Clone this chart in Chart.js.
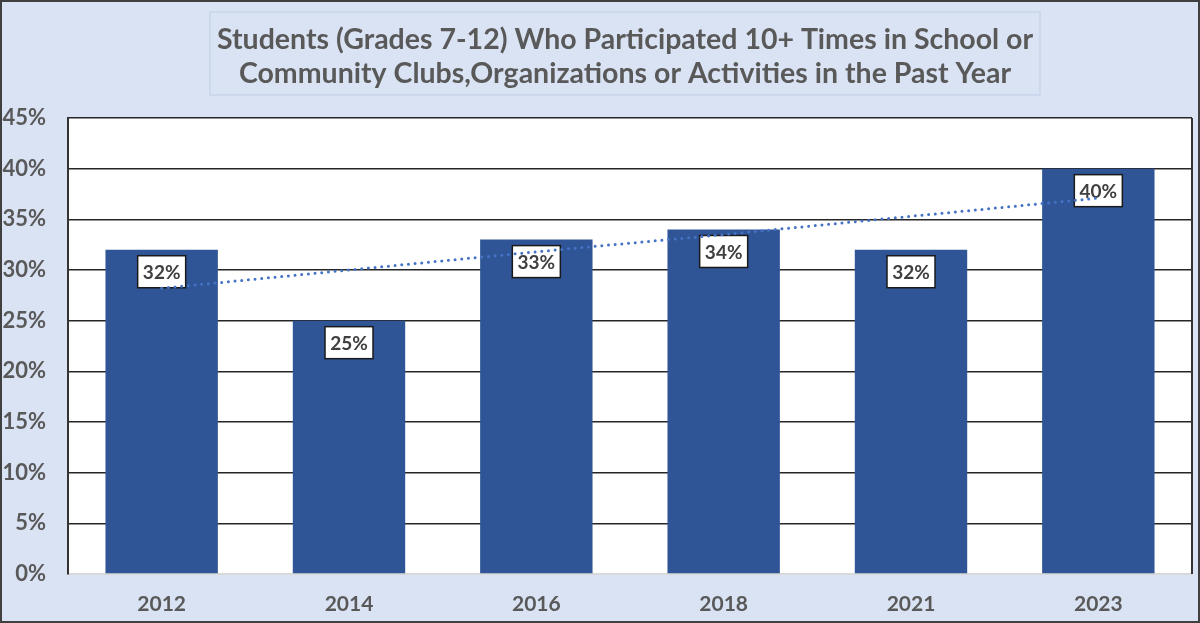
<!DOCTYPE html>
<html lang="en">
<head>
    <meta charset="UTF-8">
    <title>Students Participating in Clubs</title>
    <script src="https://cdn.jsdelivr.net/npm/chart.js@4.4.1/dist/chart.umd.min.js"></script>
    <style>
        html, body { margin: 0; padding: 0; background: #dae3f3; }
        canvas { display: block; }
    </style>
</head>
<body>
    <canvas id="clubChart" width="1200" height="623"></canvas>

    <script>
        // Data
        const years = ['2012', '2014', '2016', '2018', '2021', '2023'];
        const shares = [32, 25, 33, 34, 32, 40];
        const trend = [28.2, 30.0, 31.8, 33.5, 35.3, 37.1];
        const titleLines = [
            'Students (Grades 7-12) Who Participated 10+ Times in School or',
            'Community Clubs,Organizations or Activities in the Past Year'
        ];

        const FONT = 'Lato, "Open Sans", sans-serif';
        const GREY = '#595959';

        // background, title box, plot frame and outer border
        const framePlugin = {
            id: 'frame',
            beforeDraw(chart) {
                const c = chart.ctx;
                const a = chart.chartArea;
                c.save();
                c.fillStyle = '#dae3f3';
                c.fillRect(0, 0, chart.width, chart.height);
                c.fillStyle = '#ffffff';
                c.fillRect(a.left, a.top, a.right - a.left, a.bottom - a.top);

                // title box
                c.strokeStyle = '#c9d5ea';
                c.lineWidth = 1.5;
                c.strokeRect(210, 12, 830, 83);
                c.fillStyle = GREY;
                c.font = 'bold 28.5px ' + FONT;
                c.textAlign = 'center';
                c.textBaseline = 'middle';
                c.fillText(titleLines[0], 625, 40);
                c.fillText(titleLines[1], 625, 74);
                c.restore();
            },
            afterDraw(chart) {
                const c = chart.ctx;
                const a = chart.chartArea;
                c.save();
                c.strokeStyle = '#333333';
                c.lineWidth = 2;
                c.beginPath();
                c.moveTo(a.right, a.top);
                c.lineTo(a.right, a.bottom);
                c.stroke();
                c.strokeStyle = '#404040';
                c.lineWidth = 2;
                c.strokeRect(1, 1, chart.width - 2, chart.height - 2);
                c.restore();
            }
        };

        // white boxed value labels near the top of each bar
        const labelPlugin = {
            id: 'boxLabels',
            afterDatasetDraw(chart, args) {
                if (args.index !== 0) return;
                const c = chart.ctx;
                c.save();
                c.font = 'bold 19px ' + FONT;
                c.textAlign = 'center';
                c.textBaseline = 'middle';
                args.meta.data.forEach((bar, i) => {
                    const w = 48, h = 32;
                    const x = bar.x - w / 2;
                    const y = bar.y + 6;
                    c.fillStyle = '#ffffff';
                    c.fillRect(x, y, w, h);
                    c.strokeStyle = '#1a1a1a';
                    c.lineWidth = 1.5;
                    c.strokeRect(x, y, w, h);
                    c.fillStyle = '#404040';
                    c.fillText(shares[i] + '%', bar.x, y + h / 2 + 1);
                });
                c.restore();
            }
        };

        const ctx = document.getElementById('clubChart').getContext('2d');
        new Chart(ctx, {
            type: 'bar',
            data: {
                labels: years,
                datasets: [{
                    label: 'Participated 10+ times',
                    data: shares,
                    backgroundColor: '#2f5597',
                    categoryPercentage: 1,
                    barPercentage: 0.6,
                    order: 1
                }, {
                    type: 'line',
                    label: 'Linear trend',
                    data: trend,
                    borderColor: '#4472c4',
                    borderWidth: 3,
                    borderDash: [0, 6.7],
                    borderCapStyle: 'round',
                    pointRadius: 0,
                    fill: false,
                    tension: 0,
                    order: 0
                }]
            },
            options: {
                responsive: false,
                animation: false,
                devicePixelRatio: 1,
                layout: { padding: { top: 118, right: 8, bottom: 7, left: 0 } },
                plugins: {
                    legend: { display: false },
                    tooltip: { enabled: false },
                    title: { display: false }
                },
                scales: {
                    x: {
                        afterFit(scale) { scale.height = 42; },
                        grid: { display: false, drawTicks: false },
                        border: { color: '#d9d9d9', width: 2 },
                        ticks: {
                            color: GREY,
                            padding: 18,
                            maxRotation: 0,
                            font: { family: FONT, size: 21, weight: 'bold' }
                        }
                    },
                    y: {
                        min: 0,
                        max: 45,
                        afterFit(scale) { scale.width = 68; },
                        grid: {
                            drawTicks: false,
                            lineWidth: 1.5,
                            color: (c) => c.tick && c.tick.value === 0 ? 'rgba(0,0,0,0)' : '#262626'
                        },
                        border: { color: '#333333', width: 2 },
                        ticks: {
                            stepSize: 5,
                            color: GREY,
                            padding: 22,
                            font: { family: FONT, size: 22, weight: 'bold' },
                            callback: (v) => v + '%'
                        }
                    }
                }
            },
            plugins: [framePlugin, labelPlugin]
        });
    </script>
</body>
</html>
